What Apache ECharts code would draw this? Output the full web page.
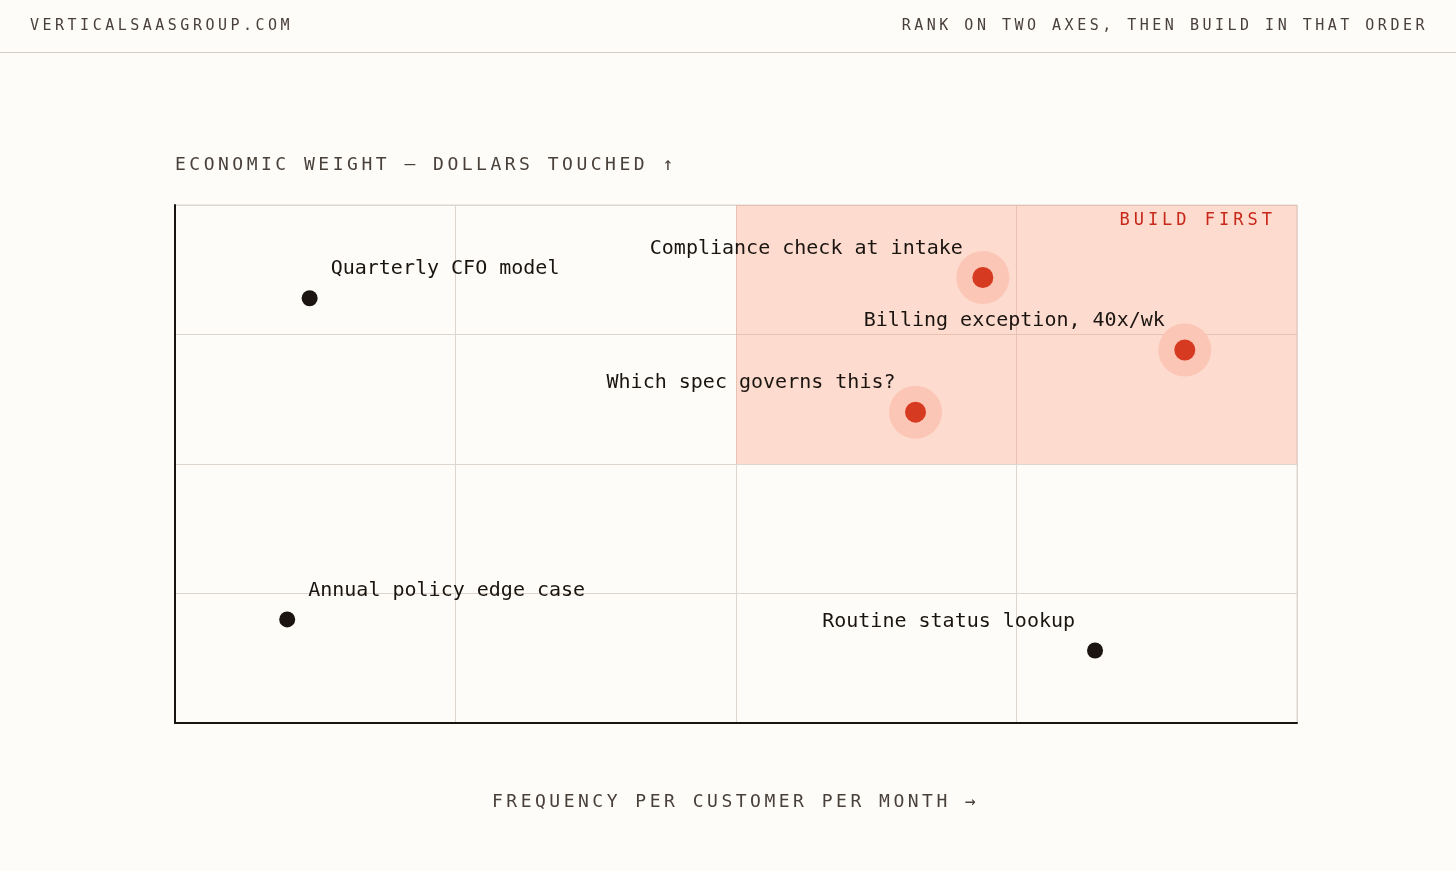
<!DOCTYPE html>
<html>
<head>
<meta charset="utf-8">
<script src="https://cdn.jsdelivr.net/npm/echarts@6/dist/echarts.min.js"></script>
<style>
  html, body { margin: 0; padding: 0; background: #fdfcf8; }
  #chart { position: absolute; left: 0; top: 0; width: 1456px; height: 871px; }
  .cap {
    position: absolute; white-space: nowrap; color: #4a403b;
    font-family: "DejaVu Sans Mono", monospace; line-height: 1;
  }
  .hd { font-size: 15px; letter-spacing: 3.5px; top: 18px; }
  .ax { font-size: 18px; letter-spacing: 3.5px; }
  #rule { position: absolute; left: 0; top: 52px; width: 1456px; height: 1px; background: #d3ccc4; }
</style>
</head>
<body>
<div id="chart"></div>
<div id="rule"></div>
<div class="cap hd" style="left:30px">VERTICALSAASGROUP.COM</div>
<div class="cap hd" style="right:28px">RANK ON TWO AXES, THEN BUILD IN THAT ORDER</div>
<div class="cap ax" style="left:175px;top:155px">ECONOMIC WEIGHT — DOLLARS TOUCHED ↑</div>
<div class="cap ax" style="left:492px;top:792px">FREQUENCY PER CUSTOMER PER MONTH →</div>
<div class="cap" style="right:180px;top:211px;font-size:17px;letter-spacing:4px;color:#c8281a">BUILD FIRST</div>
<script>
// 数据：工作流 / 频率 / 经济权重
var workflows = ['Quarterly CFO model', 'Annual policy edge case', 'Routine status lookup',
                 'Compliance check at intake', 'Billing exception, 40x/wk', 'Which spec governs this?'];
var frequency = [0.48, 0.40, 3.28, 2.88, 3.60, 2.64];
var weight    = [3.28, 0.80, 0.56, 3.44, 2.88, 2.40];
var axisMin = 0, axisMax = 4, axisStep = 1;

var mid = (axisMin + axisMax) / 2;
var FONT = '"DejaVu Sans Mono", monospace';

function point(i) {
    var rightSide = frequency[i] > mid;
    return {
        name: workflows[i],
        value: [frequency[i], weight[i]],
        label: { align: rightSide ? 'right' : 'left', offset: [rightSide ? -20 : 21, -29] }
    };
}
var hot = [], cold = [];
workflows.forEach(function (n, i) {
    if (frequency[i] >= mid && weight[i] >= mid) hot.push(point(i)); else cold.push(point(i));
});

var chart = echarts.init(document.getElementById('chart'));
var labelStyle = {
    show: true, position: 'inside', formatter: '{b}', opacity: 1,
    color: '#1a1410', fontSize: 20, fontFamily: FONT, verticalAlign: 'middle'
};
var option = {
    backgroundColor: '#fdfcf8',
    animation: false,
    grid: { left: 175, right: 159, top: 205, bottom: 148, show: true,
            borderColor: '#ddd6ce', borderWidth: 1, backgroundColor: 'transparent' },
    xAxis: {
        type: 'value', min: axisMin, max: axisMax, interval: axisStep,
        axisLine: { show: true, onZero: false, lineStyle: { color: '#1a1410', width: 2 } },
        axisTick: { show: false }, axisLabel: { show: false },
        splitLine: { show: true, lineStyle: { color: '#ddd6ce', width: 1 } }
    },
    yAxis: {
        type: 'value', min: axisMin, max: axisMax, interval: axisStep,
        axisLine: { show: true, onZero: false, lineStyle: { color: '#1a1410', width: 2 } },
        axisTick: { show: false }, axisLabel: { show: false },
        splitLine: { show: true, lineStyle: { color: '#ddd6ce', width: 1 } }
    },
    series: [
        {
            type: 'scatter', name: 'zone', data: [],
            markArea: {
                silent: true,
                itemStyle: { color: 'rgba(255,150,118,0.32)' },
                data: [[{ coord: [mid, mid] }, { coord: [axisMax, axisMax] }]]
            }
        },
        {
            type: 'scatter', name: 'halo', symbolSize: 53, z: 3, silent: true,
            itemStyle: { color: '#fcc6b6', opacity: 1 },
            data: hot.map(function (d) { return d.value; })
        },
        {
            type: 'scatter', name: 'build first', symbolSize: 21, z: 4,
            itemStyle: { color: '#d63a20', opacity: 1 },
            label: labelStyle, data: hot
        },
        {
            type: 'scatter', name: 'later', symbolSize: 16, z: 4,
            itemStyle: { color: '#1c1410', opacity: 1 },
            label: labelStyle, data: cold
        }
    ]
};
chart.setOption(option);
window.onresize = function () { chart.resize() }
</script>
</body>
</html>
